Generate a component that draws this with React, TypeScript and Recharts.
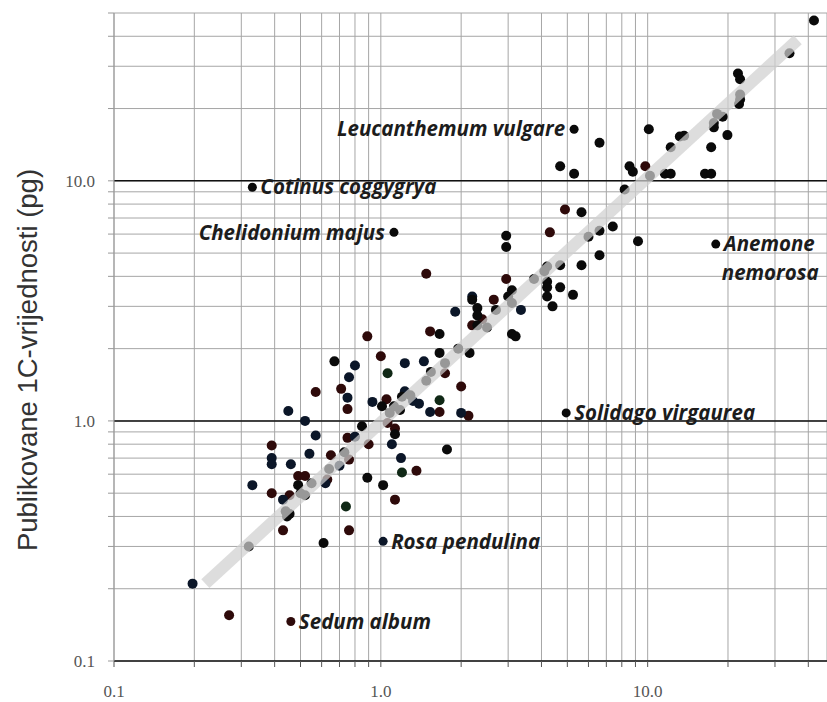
import { CartesianGrid, ReferenceLine, Scatter, ScatterChart, XAxis, YAxis } from 'recharts'

type Pt = { x: number; y: number }

// measured (x) vs published (y) 1C values, grouped by dot colour
const BLACK_POINTS: Pt[] = [
  { x: 0.32, y: 0.3 }, { x: 0.44, y: 0.42 }, { x: 0.445, y: 0.4 }, { x: 0.49, y: 0.54 },
  { x: 0.5, y: 0.5 }, { x: 0.52, y: 0.49 }, { x: 0.55, y: 0.55 }, { x: 0.61, y: 0.31 },
  { x: 0.89, y: 0.58 }, { x: 1.02, y: 0.54 }, { x: 0.67, y: 1.77 }, { x: 1.01, y: 1.15 },
  { x: 0.85, y: 0.95 }, { x: 0.73, y: 0.74 }, { x: 0.64, y: 0.63 }, { x: 1.66, y: 2.3 },
  { x: 1.66, y: 1.92 }, { x: 1.95, y: 2.0 }, { x: 2.15, y: 1.92 }, { x: 1.74, y: 1.74 },
  { x: 1.54, y: 1.6 }, { x: 1.48, y: 1.47 }, { x: 1.2, y: 1.26 }, { x: 1.29, y: 1.28 },
  { x: 1.12, y: 1.15 }, { x: 1.18, y: 1.11 }, { x: 1.08, y: 1.08 }, { x: 1.13, y: 0.88 },
  { x: 1.77, y: 0.76 }, { x: 3.1, y: 2.3 }, { x: 3.2, y: 2.25 }, { x: 5.65, y: 7.4 },
  { x: 2.95, y: 5.9 }, { x: 2.95, y: 5.3 }, { x: 6.0, y: 5.85 }, { x: 5.65, y: 4.45 },
  { x: 4.7, y: 4.45 }, { x: 4.2, y: 4.4 }, { x: 4.1, y: 4.2 }, { x: 3.75, y: 3.9 },
  { x: 4.2, y: 3.8 }, { x: 4.2, y: 3.6 }, { x: 4.7, y: 3.6 }, { x: 5.25, y: 3.35 },
  { x: 4.2, y: 3.3 }, { x: 4.4, y: 3.0 }, { x: 3.1, y: 3.5 }, { x: 3.0, y: 3.3 },
  { x: 3.1, y: 3.1 }, { x: 2.2, y: 3.2 }, { x: 2.3, y: 2.95 }, { x: 2.3, y: 2.75 },
  { x: 2.3, y: 2.5 }, { x: 2.7, y: 2.9 }, { x: 2.5, y: 2.45 }, { x: 6.6, y: 14.4 },
  { x: 4.7, y: 11.5 }, { x: 5.3, y: 10.7 }, { x: 8.55, y: 11.5 }, { x: 8.8, y: 10.9 },
  { x: 8.2, y: 9.2 }, { x: 42, y: 46.5 }, { x: 34, y: 34 }, { x: 21.8, y: 28 },
  { x: 22.2, y: 26.5 }, { x: 22.2, y: 22.9 }, { x: 22.2, y: 21.8 }, { x: 22, y: 20.9 },
  { x: 18.2, y: 19 }, { x: 19.1, y: 18.5 }, { x: 17.7, y: 17.4 }, { x: 17.7, y: 16.7 },
  { x: 19.9, y: 15.5 }, { x: 17.3, y: 13.8 }, { x: 10.1, y: 16.4 }, { x: 12.2, y: 13.8 },
  { x: 13.2, y: 15.3 }, { x: 13.7, y: 15.4 }, { x: 11.6, y: 10.7 }, { x: 12.2, y: 10.7 },
  { x: 16.4, y: 10.7 }, { x: 17.3, y: 10.7 }, { x: 10.2, y: 10.5 }, { x: 7.4, y: 6.45 },
  { x: 6.6, y: 6.2 }, { x: 9.2, y: 5.6 }, { x: 6.6, y: 4.9 }, { x: 0.455, y: 0.41 },
]

const NAVY_POINTS: Pt[] = [
  { x: 0.197, y: 0.21 }, { x: 0.33, y: 0.54 }, { x: 0.43, y: 0.47 }, { x: 0.62, y: 0.55 },
  { x: 0.8, y: 1.7 }, { x: 0.76, y: 1.52 }, { x: 0.75, y: 1.25 }, { x: 0.45, y: 1.1 },
  { x: 0.93, y: 1.2 }, { x: 0.52, y: 1.0 }, { x: 0.57, y: 0.87 }, { x: 0.39, y: 0.7 },
  { x: 0.39, y: 0.66 }, { x: 0.46, y: 0.66 }, { x: 0.54, y: 0.73 }, { x: 0.8, y: 0.86 },
  { x: 0.7, y: 0.65 }, { x: 1.23, y: 1.74 }, { x: 1.45, y: 1.77 }, { x: 1.23, y: 1.33 },
  { x: 1.32, y: 1.21 }, { x: 1.39, y: 1.18 }, { x: 1.1, y: 0.8 }, { x: 1.53, y: 1.09 },
  { x: 2.0, y: 1.08 }, { x: 1.19, y: 0.7 }, { x: 3.35, y: 2.9 }, { x: 2.2, y: 3.3 },
  { x: 1.9, y: 2.85 },
]

const RED_POINTS: Pt[] = [
  { x: 0.27, y: 0.155 }, { x: 0.39, y: 0.5 }, { x: 0.43, y: 0.35 }, { x: 0.455, y: 0.49 },
  { x: 0.49, y: 0.59 }, { x: 0.52, y: 0.59 }, { x: 0.63, y: 0.57 }, { x: 0.76, y: 0.35 },
  { x: 1.13, y: 0.47 }, { x: 0.89, y: 2.25 }, { x: 1.0, y: 1.86 }, { x: 0.57, y: 1.32 },
  { x: 0.71, y: 1.36 }, { x: 0.75, y: 1.12 }, { x: 1.05, y: 1.23 }, { x: 0.39, y: 0.79 },
  { x: 0.65, y: 0.72 }, { x: 0.75, y: 0.85 }, { x: 0.9, y: 0.8 }, { x: 0.76, y: 0.69 },
  { x: 1.53, y: 2.36 }, { x: 1.74, y: 1.58 }, { x: 2.0, y: 1.39 }, { x: 1.06, y: 0.98 },
  { x: 1.13, y: 0.93 }, { x: 1.66, y: 1.09 }, { x: 2.13, y: 1.05 }, { x: 1.36, y: 0.62 },
  { x: 4.9, y: 7.6 }, { x: 4.3, y: 6.1 }, { x: 2.95, y: 3.9 }, { x: 2.65, y: 3.2 },
  { x: 2.4, y: 2.65 }, { x: 2.2, y: 2.5 }, { x: 1.48, y: 4.1 }, { x: 9.8, y: 11.5 },
]

const GREEN_POINTS: Pt[] = [
  { x: 0.74, y: 0.44 }, { x: 1.06, y: 1.58 }, { x: 1.66, y: 1.22 }, { x: 1.2, y: 0.61 },
]

// outliers with a species name next to them
const SPECIES = [
  { name: 'Cotinus coggygrya', x: 0.33, y: 9.4 },
  { name: 'Chelidonium majus', x: 1.12, y: 6.1 },
  { name: 'Leucanthemum vulgare', x: 5.3, y: 16.4 },
  { name: 'Anemone nemorosa', x: 18, y: 5.45 },
  { name: 'Solidago virgaurea', x: 4.95, y: 1.08 },
  { name: 'Rosa pendulina', x: 1.02, y: 0.315 },
  { name: 'Sedum album', x: 0.46, y: 0.146 },
]

const TREND: Pt[] = [
  { x: 0.22, y: 0.21 },
  { x: 36.5, y: 38.7 },
]

const X_TICKS = [0.1, 0.2, 0.3, 0.4, 0.5, 0.6, 0.7, 0.8, 0.9, 1, 2, 3, 4, 5, 6, 7, 8, 9, 10, 20, 30, 40]
const Y_TICKS = [0.1, 0.2, 0.3, 0.4, 0.5, 0.6, 0.7, 0.8, 0.9, 1, 2, 3, 4, 5, 6, 7, 8, 9, 10, 20, 30, 40, 50]
const LABELLED_TICKS: Record<number, string> = { 0.1: '0.1', 1: '1.0', 10: '10.0' }

const SPECIES_COLOR: Record<string, string> = {
  'Rosa pendulina': '#0b1628',
  'Sedum album': '#2e0a0a',
}
const LEFT_LABELS = ['Chelidonium majus', 'Leucanthemum vulgare']

const tickFont = { fill: '#555', fontSize: 17, fontFamily: '"Liberation Serif", serif' }
const labelFont = {
  fill: '#1c1c1c',
  fontSize: 20.5,
  fontFamily: '"Open Sans", sans-serif',
  fontWeight: 700,
  fontStyle: 'italic' as const,
}

const dot = (color: string) => (props: any) => (
  <circle cx={props.cx} cy={props.cy} r={5} fill={color} />
)

function SpeciesDot(props: any) {
  const { cx, cy, payload } = props
  const name: string = payload.name
  const color = SPECIES_COLOR[name] ?? '#0a0a0a'
  const left = LEFT_LABELS.includes(name)
  const [first, second] = name === 'Anemone nemorosa' ? ['Anemone', 'nemorosa'] : [name, '']
  return (
    <g>
      <circle cx={cx} cy={cy} r={4.5} fill={color} />
      <text
        x={left ? cx - 9 : cx + 8}
        y={cy}
        dy="0.35em"
        textAnchor={left ? 'end' : 'start'}
        {...labelFont}
      >
        {first}
        {second ? (
          <tspan x={cx + 6} dy="1.4em">
            {second}
          </tspan>
        ) : null}
      </text>
    </g>
  )
}

function AxisTitle() {
  return (
    <text
      x={37}
      y={360}
      transform="rotate(-90 37 360)"
      textAnchor="middle"
      fill="#333"
      fontSize={27.5}
      fontFamily='"Liberation Sans", Arial, sans-serif'
    >
      Publikovane 1C-vrijednosti (pg)
    </text>
  )
}

export default function App() {
  return (
    <div style={{ position: 'absolute', left: 0, top: 0, width: 827, height: 702, background: '#fff' }}>
      <ScatterChart width={827} height={702} margin={{ top: 13, right: 0, bottom: 0, left: 0 }}>
        <CartesianGrid stroke="#a6a6a6" strokeWidth={1} />
        <XAxis
          type="number"
          dataKey="x"
          scale="log"
          domain={[0.1, 47]}
          ticks={X_TICKS}
          interval={0}
          allowDataOverflow
          height={41}
          tickSize={6}
          tickMargin={18}
          tick={tickFont}
          tickFormatter={(v: number) => LABELLED_TICKS[v] ?? ''}
          axisLine={{ stroke: '#111', strokeWidth: 1.5 }}
          tickLine={{ stroke: '#555' }}
        />
        <YAxis
          type="number"
          dataKey="y"
          scale="log"
          domain={[0.1, 50]}
          ticks={Y_TICKS}
          interval={0}
          allowDataOverflow
          width={114}
          tickSize={6}
          tickMargin={13}
          tick={tickFont}
          tickFormatter={(v: number) => LABELLED_TICKS[v] ?? ''}
          axisLine={{ stroke: '#999' }}
          tickLine={{ stroke: '#999' }}
          label={() => <AxisTitle />}
        />
        <ReferenceLine y={1} stroke="#111" strokeWidth={1.5} />
        <ReferenceLine y={10} stroke="#111" strokeWidth={1.5} />
        <Scatter data={RED_POINTS} shape={dot('#2e0a0a')} isAnimationActive={false} />
        <Scatter data={NAVY_POINTS} shape={dot('#0b1628')} isAnimationActive={false} />
        <Scatter data={GREEN_POINTS} shape={dot('#102816')} isAnimationActive={false} />
        <Scatter data={BLACK_POINTS} shape={dot('#0a0a0a')} isAnimationActive={false} />
        <Scatter data={SPECIES} shape={SpeciesDot} isAnimationActive={false} />
        <Scatter
          data={TREND}
          line={{ stroke: '#d0d0d0', strokeWidth: 12, strokeOpacity: 0.72 }}
          shape={() => <g />}
          isAnimationActive={false}
        />
      </ScatterChart>
    </div>
  )
}
